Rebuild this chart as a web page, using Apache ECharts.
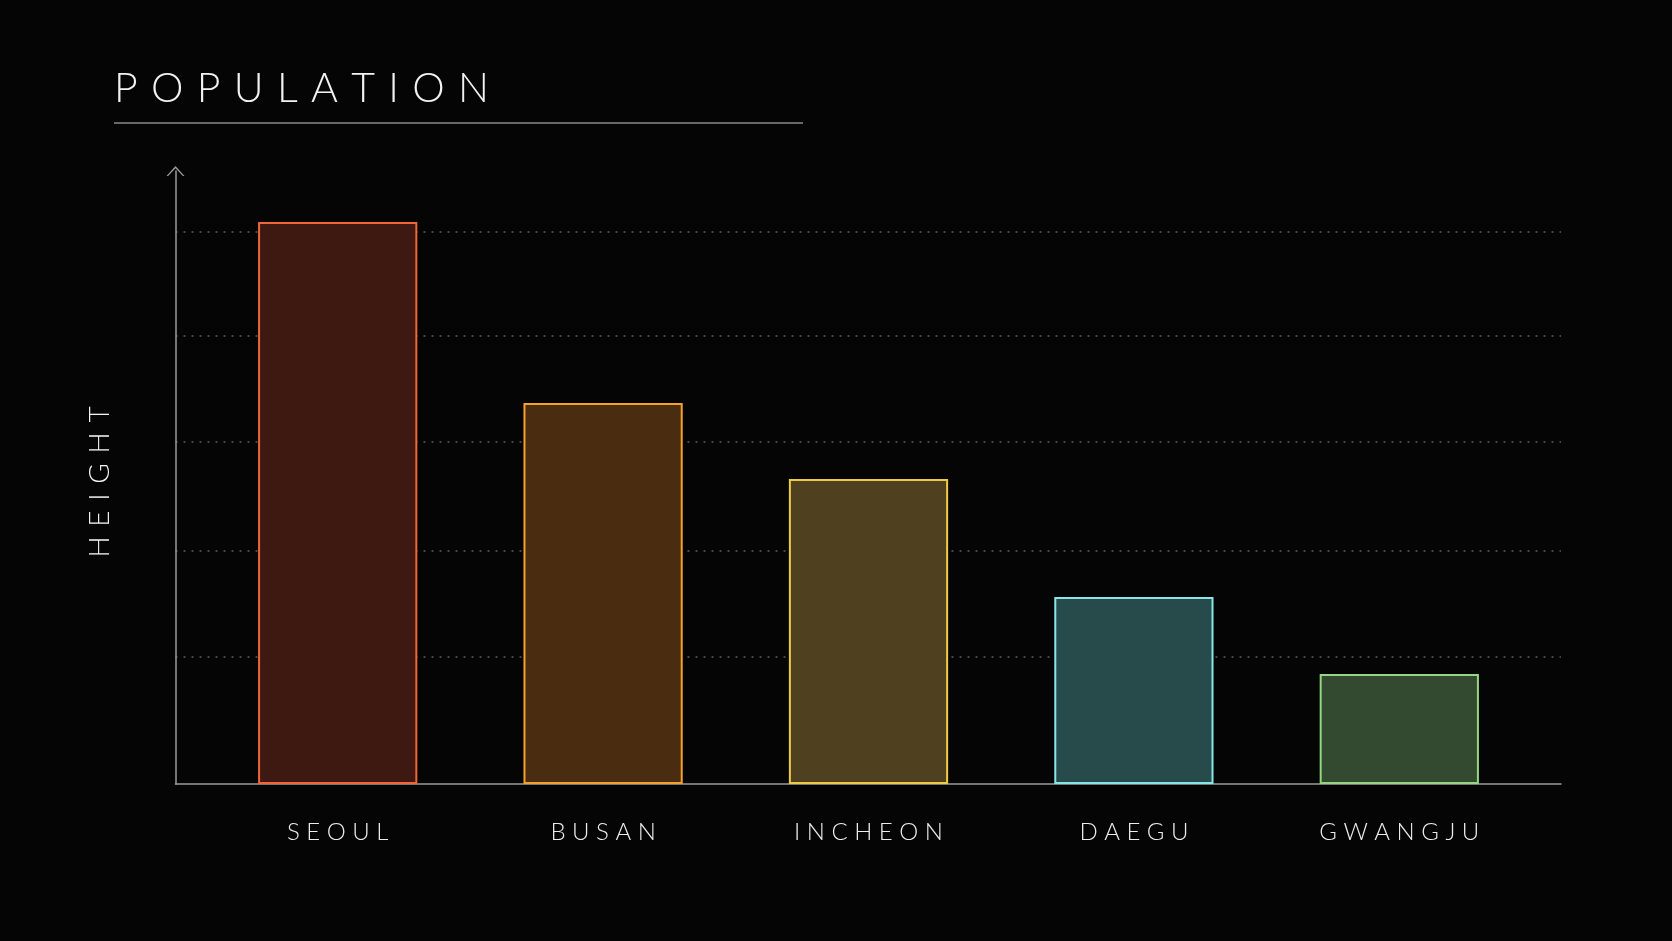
<!DOCTYPE html>
<html>
<head>
<meta charset="utf-8">
<title>Population</title>
<script src="https://cdn.jsdelivr.net/npm/echarts@6/dist/echarts.min.js"></script>
<style>
	html, body { margin: 0; padding: 0; background: #050505; }
	#chart { width: 1672px; height: 941px; }
</style>
</head>
<body>
<div id="chart"></div>
<script>
// values, in pixels above the baseline
const cities = ["SEOUL", "BUSAN", "INCHEON", "DAEGU", "GWANGJU"]
const heights = [562, 381, 305, 187, 110]
const gridValues = [127, 233, 342, 448, 552]
const axisMax = 613
const borderColors = ["#f2643a", "#f4a22e", "#eecb46", "#86e6e8", "#94d682"]
const fillColors = ["#3e1911", "#4a2d11", "#4f4120", "#274a4b", "#344a30"]

const font = "Lato, 'Open Sans', sans-serif"
const axisGrey = "#9b9b9b"
// wide letter spacing, zrender has no letterSpacing:
// letters are joined by a space set in a bigger "gap" rich style
const spaced = (s) => s.split("").join(" ")
const spacedRich = (s) => s.split("").join("{g| }")

const chart = echarts.init(document.getElementById("chart"))

chart.setOption({
	backgroundColor: "#050505",
	animation: false,
	textStyle: { fontFamily: font },
	grid: [
		{ left: 175.5, right: 111, top: 171, bottom: 157 },
		{ left: 205, right: 140, top: 171, bottom: 157 }
	],
	xAxis: [
		{
			gridIndex: 0,
			type: "value",
			min: 0,
			max: 1,
			axisLine: { show: true, lineStyle: { color: axisGrey, width: 1.5 } },
			axisTick: { show: false },
			axisLabel: { show: false },
			splitLine: { show: false }
		},
		{
			gridIndex: 1,
			type: "category",
			data: cities,
			axisLine: { show: false },
			axisTick: { show: false },
			axisLabel: {
				color: "#ececec",
				fontSize: 24,
				fontWeight: 300,
				margin: 36,
				formatter: (v) => spaced(v)
			}
		}
	],
	yAxis: [
		{
			gridIndex: 0,
			type: "value",
			min: 0,
			max: axisMax,
			axisLine: {
				show: true,
				symbol: ["none", "path://M0,10 L9,0 L18,10 L16.4,10 L9,2.2 L1.6,10 Z"],
				symbolSize: [18, 10],
				lineStyle: { color: axisGrey, width: 1.5 }
			},
			axisTick: { show: false, customValues: gridValues },
			axisLabel: { show: false },
			splitLine: {
				show: true,
				lineStyle: { color: "#5c5c5c", type: [2, 6], width: 1.5 }
			}
		},
		{ gridIndex: 1, type: "value", min: 0, max: axisMax, show: false }
	],
	series: [
		{
			type: "bar",
			xAxisIndex: 1,
			yAxisIndex: 1,
			barWidth: "60%",
			data: heights.map((v, i) => ({
				value: v,
				itemStyle: { color: fillColors[i], borderColor: borderColors[i], borderWidth: 2 }
			}))
		}
	],
	graphic: [
		{
			type: "text",
			x: 114,
			y: 89,
			style: {
				text: spacedRich("POPULATION"),
				fill: "#f2f2f2",
				fontFamily: font,
				fontSize: 41,
				fontWeight: 300,
				verticalAlign: "middle",
				rich: { g: { fontFamily: font, fontSize: 52 } }
			}
		},
		{
			type: "line",
			shape: { x1: 114, y1: 123, x2: 803, y2: 123 },
			style: { stroke: "#8a8a8a", lineWidth: 1.5 }
		},
		{
			type: "text",
			x: 100,
			y: 482,
			rotation: Math.PI / 2,
			style: {
				text: spacedRich("HEIGHT"),
				fill: "#f2f2f2",
				fontFamily: font,
				fontSize: 28,
				fontWeight: 300,
				align: "center",
				verticalAlign: "middle",
				rich: { g: { fontFamily: font, fontSize: 38 } }
			}
		}
	]
})

window.addEventListener("resize", () => chart.resize())
</script>
</body>
</html>
